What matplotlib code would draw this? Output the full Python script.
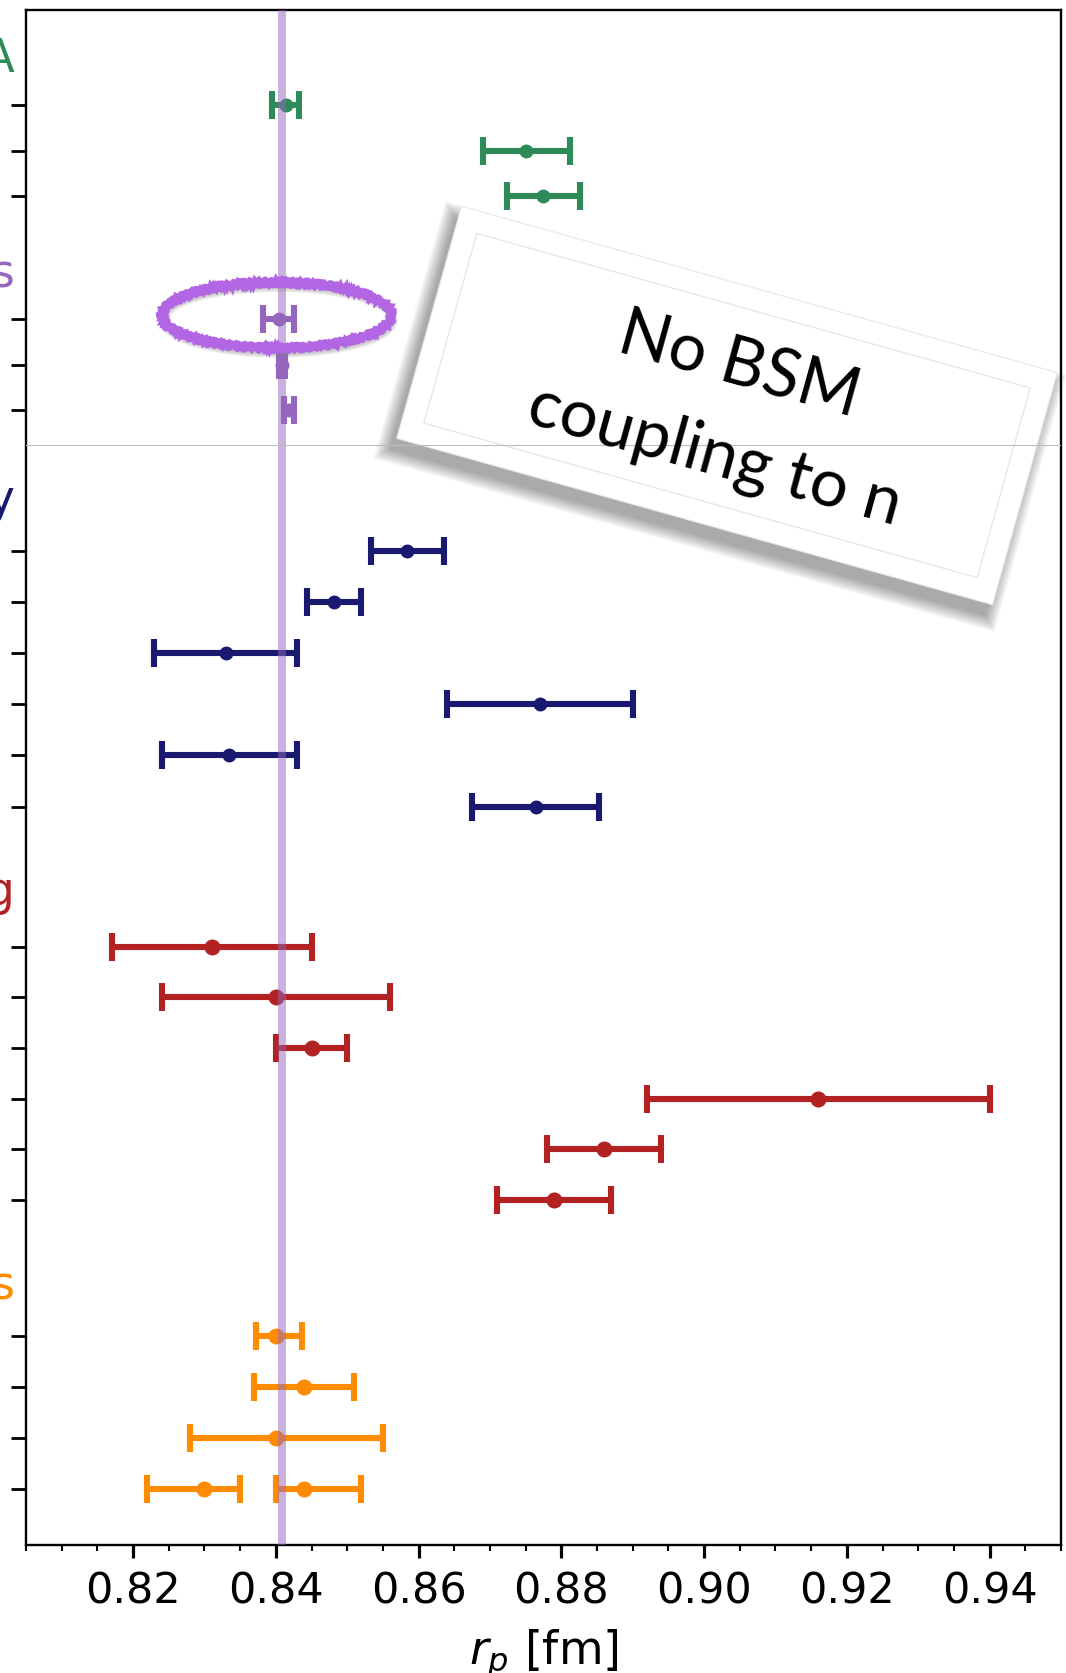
import matplotlib
matplotlib.use("Agg")
import matplotlib.pyplot as plt
import matplotlib.patches as mpatches
import matplotlib.transforms as mtransforms
from matplotlib.ticker import MultipleLocator
import numpy as np

# ---- data: proton charge radius r_p [fm] ----
codata_r = [0.8414, 0.8751, 0.8775]
codata_lo = [0.0019, 0.0061, 0.0051]
codata_hi = [0.0019, 0.0061, 0.0051]

muon_r = [0.8404, 0.84087, 0.84184]
muon_lo = [0.0022, 0.00039, 0.00067]
muon_hi = [0.0022, 0.00039, 0.00067]

spec_r = [0.8584, 0.8482, 0.833, 0.877, 0.8335, 0.8764]
spec_lo = [0.0051, 0.0038, 0.010, 0.013, 0.0095, 0.0089]
spec_hi = [0.0051, 0.0038, 0.010, 0.013, 0.0095, 0.0089]

scat_r = [0.831, 0.840, 0.845, 0.916, 0.886, 0.879]
scat_lo = [0.014, 0.016, 0.005, 0.024, 0.008, 0.008]
scat_hi = [0.014, 0.016, 0.005, 0.024, 0.008, 0.008]

disp_r = [0.840, 0.844, 0.840, 0.830, 0.844]
disp_lo = [0.0028, 0.007, 0.012, 0.008, 0.004]
disp_hi = [0.0036, 0.007, 0.015, 0.005, 0.008]
disp_row = [0, 1, 2, 3, 3]

group_names = ["CODATA", "Muonic atoms", "H spectroscopy", "e-p scattering", "Dispersive analyses"]
group_colors = ["seagreen", "#9467bd", "midnightblue", "firebrick", "darkorange"]

r_ref = 0.8409  # muonic hydrogen band

W, H = 1066, 1673
fig = plt.figure(figsize=(W / 100, H / 100), dpi=100)
ax = fig.add_axes([26 / W, 1 - 1545 / H, 1035 / W, 1535 / H])

# row layout (start, step) per group, plus label baseline
layout = [(1.863, 0.896, 1.23), (6.065, 0.89, 5.43), (10.60, 1.004, 9.86),
          (18.37, 0.992, 17.55), (26.01, 1.0, 25.27)]
groups = [
    (codata_r, codata_lo, codata_hi, list(range(3)), 9),
    (muon_r, muon_lo, muon_hi, list(range(3)), 9),
    (spec_r, spec_lo, spec_hi, list(range(6)), 9),
    (scat_r, scat_lo, scat_hi, list(range(6)), 10.5),
    (disp_r, disp_lo, disp_hi, disp_row, 10.5),
]

yticks = []
row_y = []
for (vals, lo, hi, rows, ms), (start, step, lab_y), name, col in zip(groups, layout, group_names, group_colors):
    ys = [start + step * r for r in rows]
    row_y.append(ys)
    yticks += sorted(set(ys))
    ax.errorbar(vals, ys, xerr=[lo, hi], fmt='o', color=col, ms=ms,
                elinewidth=4.4, capsize=10, capthick=4.4, zorder=3)
    ax.text(-0.0106, lab_y, name, transform=ax.get_yaxis_transform(), ha='right',
            va='baseline', fontsize=33, color=col, clip_on=False)

ax.axvline(r_ref, color='#9467bd', alpha=0.5, lw=5.8, zorder=4)
ax.axhline(8.53, color='#bdbdbd', lw=0.8, zorder=8)

ax.set_xlim(0.805, 0.95)
ax.set_ylim(30.1, 0)
ax.set_yticks(yticks)
ax.set_yticklabels([])
ax.xaxis.set_major_locator(MultipleLocator(0.02))
ax.xaxis.set_minor_locator(MultipleLocator(0.005))
ax.tick_params(axis='x', which='major', length=9.5, width=2.3, labelsize=31, pad=9)
ax.tick_params(axis='x', which='minor', length=4.5, width=1.5)
ax.tick_params(axis='y', which='major', length=10.8, width=2.0)
for sp in ax.spines.values():
    sp.set_linewidth(1.7)
ax.set_xlabel("$r_p$ [fm]", fontsize=33, labelpad=11)

# hand-drawn ellipse around the circled muonic point
ex, ey = 0.84013, row_y[1][0] - 0.08
for dw, dh in [(0.0, 0.0), (0.0005, 0.06), (-0.0005, -0.06)]:
    sh = mpatches.Arc((ex + 0.0002, ey + 0.09), 0.0321 + dw, 1.29 + dh, theta1=-43, theta2=311,
                      color='gray', lw=5, alpha=0.16, zorder=5)
    ax.add_patch(sh)
for k, (dw, dh) in enumerate([(0.0, 0.0), (0.0006, 0.07), (-0.0006, -0.07), (0.0003, -0.035)]):
    arc = mpatches.Arc((ex, ey), 0.0321 + dw, 1.29 + dh, theta1=-43 + 2 * k, theta2=311 + k,
                       color='#b366e3', lw=4.0, zorder=6)
    arc.set_sketch_params(scale=1.4, length=6, randomness=3)
    ax.add_patch(arc)

# tilted paper note
cx, cy = 727 / 100, (H - 405.5) / 100
nw, nh, ang = 6.185, 2.41, -15.6
tf = mtransforms.Affine2D().rotate_deg(ang).translate(cx, cy) + fig.dpi_scale_trans
for i in range(12):
    g = 0.012 * i
    sh_tf = mtransforms.Affine2D().rotate_deg(ang).translate(cx - 0.07, cy - 0.11) + fig.dpi_scale_trans
    ax.add_patch(mpatches.Rectangle((-nw / 2 - g, -nh / 2 - g), nw + 2 * g, nh + 2 * g,
                                    transform=sh_tf, facecolor='black', edgecolor='none',
                                    alpha=0.03, zorder=6, clip_on=False))
ax.add_patch(mpatches.Rectangle((-nw / 2, -nh / 2), nw, nh, transform=tf, facecolor='white',
                                edgecolor='#e8e8e8', lw=0.8, zorder=7, clip_on=False))
ax.add_patch(mpatches.Rectangle((-nw / 2 + 0.22, -nh / 2 + 0.22), nw - 0.44, nh - 0.44,
                                transform=tf, facecolor='none', edgecolor='#e2e2e2',
                                lw=0.8, zorder=7, clip_on=False))
ax.text(7.339, (H - 384) / 100, "No BSM", transform=fig.dpi_scale_trans, rotation=-15.5,
        rotation_mode='anchor', ha='center', va='baseline', fontsize=48, family='Lato',
        zorder=9)
ax.text(7.10, (H - 473.5) / 100, "coupling to n", transform=fig.dpi_scale_trans,
        rotation=-15.5, rotation_mode='anchor', ha='center', va='baseline', fontsize=48.5,
        family='Lato', zorder=9)

fig.savefig("out.png", dpi=100)
